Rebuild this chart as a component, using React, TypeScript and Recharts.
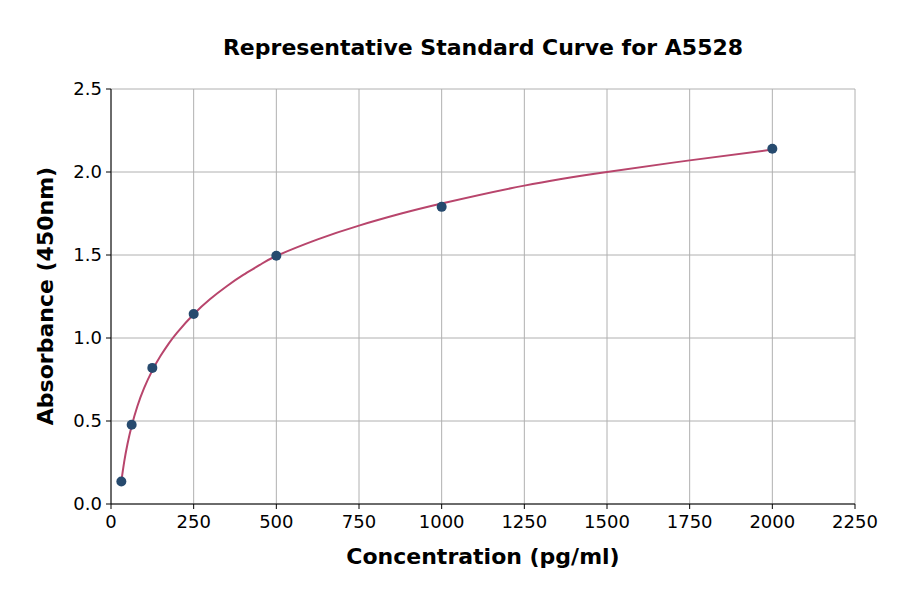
import React from 'react';
import { ComposedChart, Line, Scatter, XAxis, YAxis, CartesianGrid } from 'recharts';

const FONT = 'DejaVu Sans, sans-serif';

// measured standards
const stdConc = [31.25, 62.5, 125, 250, 500, 1000, 2000];
const stdAbs = [0.136, 0.477, 0.82, 1.145, 1.495, 1.79, 2.14];

// fitted curve
const fitConc = [31.25, 40, 50, 62.5, 80, 100, 125, 150, 175, 200, 250, 300, 350, 400, 450, 500, 625, 750, 875, 1000, 1250, 1500, 1750, 2000];
const fitAbs = [0.136, 0.255, 0.363, 0.47, 0.59, 0.698, 0.805, 0.893, 0.968, 1.033, 1.143, 1.235, 1.312, 1.38, 1.44, 1.494, 1.594, 1.677, 1.748, 1.81, 1.918, 2.0, 2.07, 2.135];

const xTicks = [0, 250, 500, 750, 1000, 1250, 1500, 1750, 2000, 2250];
const yTicks = [0, 0.5, 1.0, 1.5, 2.0, 2.5];

const points = stdConc.map((x, i) => ({ x, y: stdAbs[i] }));
const curve = fitConc.map((x, i) => ({ x, y: fitAbs[i] }));

const tickStyle = { fontSize: 18, fill: '#000', fontFamily: FONT };

export default function App() {
    return (
        <div style={{ position: 'absolute', left: 0, top: 0, width: 900, height: 594, background: '#fff' }}>
            <div style={{ position: 'absolute', left: 111, width: 744, top: 35, textAlign: 'center', fontFamily: FONT, fontWeight: 'bold', fontSize: 22 }}>
                Representative Standard Curve for A5528
            </div>
            <div style={{ position: 'absolute', left: 111, width: 744, top: 544, textAlign: 'center', fontFamily: FONT, fontWeight: 'bold', fontSize: 22 }}>
                Concentration (pg/ml)
            </div>
            <div style={{ position: 'absolute', left: 45, top: 296, transform: 'translate(-50%, -50%) rotate(-90deg)', whiteSpace: 'nowrap', fontFamily: FONT, fontWeight: 'bold', fontSize: 22 }}>
                Absorbance (450nm)
            </div>
            <ComposedChart width={900} height={594} margin={{ top: 89, right: 45, bottom: 0, left: 0 }}>
                <CartesianGrid stroke="#b0b0b0" strokeWidth={1} />
                <XAxis
                    dataKey="x"
                    type="number"
                    domain={[0, 2250]}
                    ticks={xTicks}
                    interval={0}
                    height={90}
                    tick={tickStyle}
                    tickLine={{ stroke: '#000' }}
                    tickSize={5}
                    tickMargin={6}
                    axisLine={{ stroke: '#000' }}
                    allowDataOverflow
                />
                <XAxis xAxisId="top" orientation="top" type="number" domain={[0, 2250]} height={0} tick={false} tickLine={false} axisLine={{ stroke: '#000' }} />
                <YAxis
                    dataKey="y"
                    type="number"
                    domain={[0, 2.5]}
                    ticks={yTicks}
                    interval={0}
                    width={111}
                    tick={tickStyle}
                    tickFormatter={(v: number) => v.toFixed(1)}
                    tickLine={{ stroke: '#000' }}
                    tickSize={5}
                    tickMargin={4}
                    axisLine={{ stroke: '#000' }}
                    allowDataOverflow
                />
                <YAxis yAxisId="right" orientation="right" type="number" domain={[0, 2.5]} width={0} tick={false} tickLine={false} axisLine={{ stroke: '#000' }} />
                <Scatter data={points} dataKey="y" fill="#264a6e" isAnimationActive={false} shape={(p: any) => <circle cx={p.cx} cy={p.cy} r={5} fill="#264a6e" />} />
                <Line data={curve} dataKey="y" type="natural" stroke="#b8456c" strokeWidth={2} dot={false} isAnimationActive={false} />
            </ComposedChart>
        </div>
    );
}
